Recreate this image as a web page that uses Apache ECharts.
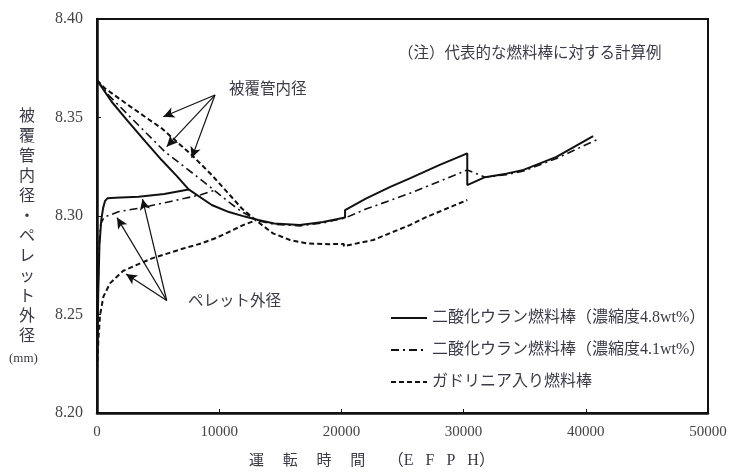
<!DOCTYPE html>
<html>
<head>
<meta charset="utf-8">
<script src="https://cdn.jsdelivr.net/npm/echarts@6/dist/echarts.min.js"></script>
<style>
html,body{margin:0;padding:0;background:#fff;}
#chart{width:731px;height:472px;}
</style>
</head>
<body>
<div id="chart"></div>
<script>
// ---- data ----
const seriesNames = ['二酸化ウラン燃料棒（濃縮度4.8wt%）', '二酸化ウラン燃料棒（濃縮度4.1wt%）', 'ガドリニア入り燃料棒'];
const xTickLabels = ['0', '10000', '20000', '30000', '40000', '50000'];
const yTickLabels = ['8.20', '8.25', '8.30', '8.35', '8.40'];

// 4.8wt% UO2 rod: cladding inner diameter (continues after pellet contact)
const clad48 = [[0,8.369],[1200,8.358],[2560,8.3479],[4000,8.3375],[5290,8.3284],[6500,8.3205],[7500,8.3135],[9390,8.3056],[10800,8.302],[12100,8.2997],[13200,8.298],[14500,8.2962],[16600,8.2954],[18500,8.297],[20300,8.2992],[20300,8.3030],[22000,8.3088],[24000,8.3148],[25600,8.3191],[28000,8.3258],[30300,8.3318],[30300,8.3157],[31750,8.3197],[33500,8.3215],[34900,8.3234],[37600,8.3300],[40600,8.3406]];
// 4.8wt% UO2 rod: pellet outer diameter
const pellet48 = [[0,8.222],[100,8.26],[200,8.285],[350,8.298],[500,8.304],[650,8.3075],[850,8.309],[1500,8.3093],[3400,8.3098],[5500,8.3112],[7500,8.3135]];

// 4.1wt% UO2 rod
const clad41 = [[0,8.369],[1000,8.361],[3380,8.3462],[5560,8.3326],[8020,8.3208],[9600,8.313],[10800,8.307],[11840,8.3022],[13200,8.2975],[14500,8.2958],[16600,8.2950],[18500,8.2965],[20300,8.2990],[22000,8.3035],[25600,8.3115],[28000,8.3175],[30300,8.3234],[31750,8.3197],[33500,8.3210],[34900,8.3228],[37600,8.3292],[41000,8.3390]];
const pellet41 = [[0,8.222],[80,8.26],[170,8.285],[300,8.296],[600,8.2995],[1060,8.3005],[1750,8.3022],[3380,8.3039],[5290,8.3064],[7200,8.309],[8500,8.3108],[9600,8.313]];

// Gadolinia rod
const cladGd = [[0,8.369],[650,8.3648],[2560,8.3563],[5290,8.3445],[7750,8.331],[9390,8.3208],[10600,8.3125],[11840,8.3039],[13000,8.2978],[14400,8.2912],[15800,8.2878],[17200,8.2861],[19000,8.2857],[20200,8.2858],[20200,8.2847],[22600,8.2878],[25600,8.2954],[27000,8.2996],[30300,8.3081]];
const pelletGd = [[0,8.222],[120,8.238],[250,8.2497],[520,8.259],[1060,8.2658],[2150,8.2722],[4500,8.2785],[7060,8.2835],[8500,8.286],[9800,8.289],[11000,8.2925],[12000,8.2955],[13000,8.2978]];

// annotation arrows (data space)
const cladArrowFrom = [9656, 8.3614];
const cladArrowTo = [[5426, 8.3504], [5704, 8.3352], [7750, 8.3295]];
const pelletArrowFrom = [5704, 8.2571];
const pelletArrowTo = [[2373, 8.2706], [1637, 8.2992], [3723, 8.3086]];

// ---- chart ----
const SERIF = "'Liberation Serif','Noto Sans CJK JP',serif";
const JP = "'Noto Sans CJK JP','Liberation Serif',sans-serif";
const INK = '#111';
const TXT = '#3a3a48';

const chart = echarts.init(document.getElementById('chart'), null, {renderer: 'canvas'});

const styles = [
  {type: 'solid', width: 2},
  {type: [8, 4, 2, 4], width: 1.6},
  {type: [5, 3], width: 2}
];

function lineSeries(name, data, st, extra) {
  return Object.assign({
    name: name, type: 'line', data: data, showSymbol: false, symbol: 'none',
    lineStyle: {color: INK, width: st.width, type: st.type},
    itemStyle: {color: INK},
    animation: false, silent: true, z: 3
  }, extra || {});
}

function arrows(from, tos) {
  return tos.map(t => [{coord: from}, {coord: t}]);
}

const series = [
  lineSeries(seriesNames[0], clad48, styles[0], {
    markLine: {
      silent: true, animation: false,
      symbol: ['none', 'arrow'], symbolSize: [8, 11],
      label: {show: false},
      lineStyle: {color: INK, width: 1.2, type: 'solid'},
      data: arrows(cladArrowFrom, cladArrowTo).concat(arrows(pelletArrowFrom, pelletArrowTo))
    }
  }),
  lineSeries(seriesNames[0], pellet48, styles[0]),
  lineSeries(seriesNames[1], clad41, styles[1]),
  lineSeries(seriesNames[1], pellet41, styles[1]),
  lineSeries(seriesNames[2], cladGd, styles[2]),
  lineSeries(seriesNames[2], pelletGd, styles[2])
];

const option = {
  animation: false,
  backgroundColor: '#fff',
  grid: {left: 97, right: 23, top: 19, bottom: 59, show: true, borderColor: INK, borderWidth: 2, backgroundColor: 'transparent'},
  xAxis: {
    type: 'value', min: 0, max: 50000, interval: 10000,
    axisLine: {show: true, onZero: false, lineStyle: {color: INK, width: 2.5}},
    axisTick: {show: true, inside: true, length: 4, lineStyle: {color: INK, width: 1}},
    splitLine: {show: false},
    axisLabel: {margin: 12, fontFamily: SERIF, fontSize: 15, color: '#444',
      formatter: (v, i) => xTickLabels[i]}
  },
  yAxis: {
    type: 'value', min: 8.2, max: 8.4, interval: 0.05,
    axisLine: {show: true, onZero: false, lineStyle: {color: INK, width: 2.5}},
    axisTick: {show: true, inside: true, length: 4, lineStyle: {color: INK, width: 1}},
    splitLine: {show: false},
    axisLabel: {margin: 14, fontFamily: SERIF, fontSize: 16, color: '#444',
      formatter: (v, i) => yTickLabels[i]}
  },
  legend: {
    data: seriesNames,
    orient: 'vertical', left: 385, top: 305,
    padding: 5,
    itemWidth: 36, itemHeight: 14, itemGap: 16,
    itemStyle: {opacity: 0, color: 'rgba(0,0,0,0)', borderColor: 'rgba(0,0,0,0)', borderWidth: 0},
    textStyle: {fontFamily: SERIF, fontSize: 16, color: TXT},
    selectedMode: false
  },
  graphic: [
    {type: 'text', left: 398, top: 44, silent: true,
      style: {text: '（注）代表的な燃料棒に対する計算例', font: "15.5px " + JP, fill: TXT}},
    {type: 'text', left: 229, top: 80, silent: true,
      style: {text: '被覆管内径', font: "15.5px " + JP, fill: TXT}},
    {type: 'text', left: 188, top: 292, silent: true,
      style: {text: 'ペレット外径', font: "15.5px " + JP, fill: TXT}},
    {type: 'text', left: 19, top: 105, silent: true,
      style: {text: '被\n覆\n管\n内\n径\n・\nペ\nレ\nッ\nト\n外\n径', font: "16px " + JP, fill: TXT, lineHeight: 20, align: 'left'}},
    {type: 'text', left: 9, top: 352, silent: true,
      style: {text: '(mm)', font: "13px " + SERIF, fill: TXT}},
    {type: 'text', left: 249, top: 453, silent: true,
      style: {
        text: '{a|運　 転　 時　 間　  }{b|（E   F   P   H）}',
        rich: {
          a: {font: "15px " + SERIF, fill: TXT},
          b: {font: "16px " + SERIF, fill: TXT}
        }
      }}
  ],
  series: series
};

chart.setOption(option);
</script>
</body>
</html>
